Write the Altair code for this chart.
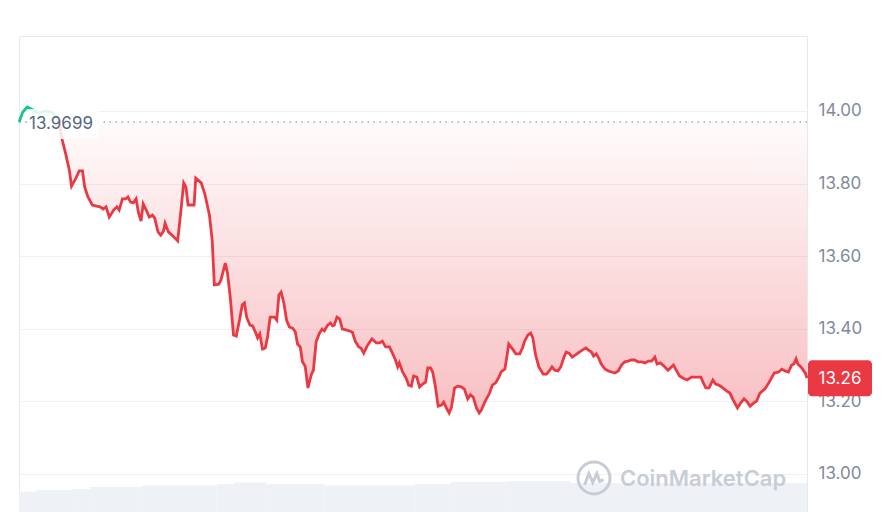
import altair as alt
import pandas as pd

# ---- data (time in minutes over 24h, price in USD) ----
t_min = [
    0, 7, 15, 26, 37, 48, 59, 70, 72, 75,
    79, 85, 92, 96, 104, 110, 116, 120, 126, 134,
    142, 148, 154, 159, 165, 173, 179, 183, 189, 195,
    199, 204, 209, 214, 218, 223, 227, 234, 238, 244,
    248, 254, 259, 264, 267, 273, 281, 290, 296, 301,
    305, 309, 320, 323, 333, 340, 348, 353, 357, 365,
    369, 377, 381, 386, 392, 397, 403, 408, 412, 416,
    422, 427, 432, 436, 440, 445, 450, 454, 459, 467,
    471, 475, 479, 484, 489, 494, 500, 505, 509, 514,
    518, 523, 528, 534, 538, 543, 549, 554, 558, 564,
    569, 573, 576, 581, 586, 591, 598, 604, 609, 615,
    621, 625, 630, 637, 645, 653, 659, 664, 670, 677,
    683, 688, 692, 695, 701, 708, 712, 717, 721, 727,
    732, 738, 743, 747, 752, 756, 761, 766, 772, 776,
    781, 786, 790, 796, 802, 808, 814, 817, 820, 825,
    830, 836, 841, 845, 851, 860, 865, 871, 877, 881,
    888, 892, 895, 902, 908, 915, 920, 924, 930, 935,
    939, 944, 950, 958, 964, 970, 974, 979, 985, 990,
    996, 1000, 1005, 1011, 1017, 1024, 1030, 1036, 1040, 1046,
    1050, 1055, 1060, 1064, 1071, 1077, 1083, 1089, 1095, 1101,
    1107, 1113, 1119, 1125, 1131, 1138, 1144, 1150, 1156, 1162,
    1166, 1172, 1179, 1186, 1196, 1200, 1207, 1214, 1221, 1229,
    1238, 1246, 1250, 1255, 1261, 1268, 1273, 1279, 1286, 1293,
    1299, 1305, 1313, 1319, 1325, 1331, 1336, 1343, 1348, 1354,
    1363, 1371, 1380, 1388, 1394, 1400, 1406, 1412, 1416, 1420,
    1423, 1429, 1437, 1440,
]

price = [
    13.9699, 13.997, 14.011, 14.003, 13.994, 14.000, 13.997, 13.983, 13.9699, 13.953,
    13.920, 13.884, 13.837, 13.793, 13.815, 13.835, 13.835, 13.791, 13.763, 13.741,
    13.738, 13.736, 13.730, 13.736, 13.708, 13.727, 13.736, 13.727, 13.758, 13.758,
    13.763, 13.749, 13.747, 13.758, 13.722, 13.697, 13.744, 13.722, 13.708, 13.713,
    13.705, 13.667, 13.658, 13.669, 13.691, 13.667, 13.656, 13.642, 13.727, 13.802,
    13.791, 13.741, 13.741, 13.815, 13.802, 13.769, 13.713, 13.645, 13.521, 13.523,
    13.534, 13.581, 13.554, 13.488, 13.383, 13.380, 13.424, 13.466, 13.471, 13.432,
    13.410, 13.408, 13.391, 13.375, 13.386, 13.344, 13.347, 13.375, 13.432, 13.432,
    13.424, 13.493, 13.501, 13.471, 13.424, 13.405, 13.402, 13.391, 13.358, 13.350,
    13.309, 13.297, 13.237, 13.273, 13.286, 13.364, 13.388, 13.399, 13.394, 13.410,
    13.416, 13.408, 13.410, 13.432, 13.427, 13.399, 13.397, 13.394, 13.391, 13.364,
    13.350, 13.347, 13.333, 13.355, 13.372, 13.361, 13.361, 13.366, 13.350, 13.350,
    13.331, 13.314, 13.295, 13.306, 13.281, 13.262, 13.245, 13.242, 13.270, 13.267,
    13.240, 13.248, 13.253, 13.292, 13.292, 13.281, 13.240, 13.187, 13.190, 13.198,
    13.182, 13.168, 13.182, 13.237, 13.242, 13.240, 13.234, 13.220, 13.207, 13.218,
    13.212, 13.182, 13.168, 13.176, 13.198, 13.223, 13.245, 13.251, 13.267, 13.281,
    13.289, 13.328, 13.358, 13.344, 13.331, 13.331, 13.347, 13.366, 13.383, 13.388,
    13.375, 13.328, 13.295, 13.275, 13.275, 13.286, 13.295, 13.286, 13.284, 13.295,
    13.322, 13.336, 13.333, 13.322, 13.328, 13.336, 13.342, 13.347, 13.342, 13.336,
    13.325, 13.331, 13.317, 13.303, 13.289, 13.284, 13.281, 13.278, 13.284, 13.300,
    13.309, 13.311, 13.314, 13.314, 13.309, 13.309, 13.306, 13.311, 13.311, 13.322,
    13.303, 13.306, 13.297, 13.286, 13.300, 13.289, 13.270, 13.264, 13.259, 13.267,
    13.267, 13.267, 13.253, 13.237, 13.237, 13.259, 13.248, 13.245, 13.237, 13.229,
    13.223, 13.204, 13.182, 13.196, 13.207, 13.198, 13.187, 13.196, 13.201, 13.223,
    13.234, 13.253, 13.278, 13.281, 13.289, 13.284, 13.281, 13.300, 13.303, 13.317,
    13.303, 13.295, 13.278, 13.264,
]

open_price = 13.9699
y_ticks = [13.00, 13.20, 13.40, 13.60, 13.80, 14.00]

vol_start = [0, 31, 97, 130, 225, 361, 393, 452, 558, 723, 789, 893, 1007]
vol_end = [31, 97, 130, 225, 361, 393, 452, 558, 723, 789, 893, 1007, 1440]
volume = [10.2, 11.0, 11.5, 12.5, 13.2, 13.9, 14.7, 13.9, 13.2, 14.0, 15.0, 15.5, 14.5]

watermark = "CoinMarketCap"

# ---- styling ----
RED = "#ea3943"
GREEN = "#16c784"
FONT = "Inter"
W, H = 788, 476

df = pd.DataFrame({"t": t_min, "price": price})
up = df[df["t"] <= 72]
down = df[df["t"] >= 72].assign(base=open_price)
base_df = pd.DataFrame({"base": [open_price]})
last_df = pd.DataFrame({"last": [price[-1]]})
vol_df = pd.DataFrame({"t0": vol_start, "t1": vol_end, "vol": volume})
one = pd.DataFrame({"a": [0]})

xscale = alt.Scale(domain=[0, 1440], nice=False, zero=False)
yscale = alt.Scale(domain=[12.8953, 14.2066], nice=False, zero=False)
yaxis = alt.Axis(
    orient="right", values=y_ticks, format=".2f", title=None, domain=False,
    ticks=False, labelFontSize=17, labelColor="#808a9d", labelFont=FONT,
    labelPadding=11, grid=True, gridColor="#eff2f5", gridWidth=1,
)

X = alt.X("t:Q", scale=xscale, axis=None)

vol_layer = alt.Chart(vol_df).mark_rect(color="#eef1f6").encode(
    x=alt.X("t0:Q", scale=xscale, axis=None),
    x2="t1:Q",
    y=alt.Y("vol:Q", scale=alt.Scale(domain=[0, 238], nice=False), axis=None),
    y2=alt.datum(0),
)

grad = alt.Gradient(
    gradient="linear",
    stops=[
        alt.GradientStop(color="rgba(234,57,67,0.02)", offset=0),
        alt.GradientStop(color="rgba(234,57,67,0.32)", offset=1),
    ],
    x1=1, x2=1, y1=0, y2=1,
)

area = alt.Chart(down).mark_area(color=grad, interpolate="linear").encode(
    x=X, y=alt.Y("price:Q", scale=yscale, axis=yaxis), y2="base:Q"
)

rule = alt.Chart(base_df).mark_rule(
    strokeDash=[1.5, 4.5], strokeWidth=1.5, color="#a3aab6"
).encode(y=alt.Y("base:Q", scale=yscale, axis=yaxis))

line_up = alt.Chart(up).mark_line(color=GREEN, strokeWidth=2.8, interpolate="linear").encode(
    x=X, y=alt.Y("price:Q", scale=yscale, axis=yaxis)
)
line_down = alt.Chart(down).mark_line(color=RED, strokeWidth=2.8, interpolate="linear").encode(
    x=X, y=alt.Y("price:Q", scale=yscale, axis=yaxis)
)

label_bg = alt.Chart(base_df).mark_rect(
    fill="white", opacity=0.85, cornerRadius=4, yOffset=-13, y2Offset=17
).encode(
    x=alt.value(8), x2=alt.value(80),
    y=alt.Y("base:Q", scale=yscale, axis=yaxis), y2="base:Q",
)
label_txt = alt.Chart(base_df).mark_text(
    align="left", baseline="middle", dy=2, fontSize=17, font=FONT, color="#58667e"
).encode(
    x=alt.value(10),
    y=alt.Y("base:Q", scale=yscale, axis=yaxis),
    text=alt.Text("base:Q", format=".4f"),
)

tag_bg = alt.Chart(last_df).mark_rect(
    fill=RED, cornerRadius=4, yOffset=-18, y2Offset=18
).encode(
    x=alt.value(789), x2=alt.value(853),
    y=alt.Y("last:Q", scale=yscale, axis=yaxis), y2="last:Q",
)
tag_txt = alt.Chart(last_df).mark_text(
    align="center", baseline="middle", dy=1, fontSize=17, font=FONT, color="white"
).encode(
    x=alt.value(821),
    y=alt.Y("last:Q", scale=yscale, axis=yaxis),
    text=alt.Text("last:Q", format=".2f"),
)

WM = "#c8cdd5"
logo_ring = alt.Chart(one).mark_point(
    shape="circle", size=1024, filled=False, strokeWidth=3, color=WM, opacity=1
).encode(x=alt.value(575), y=alt.value(442))
logo_wave = alt.Chart(one).mark_point(
    shape="M-0.58,0.42 L-0.32,-0.28 L-0.08,0.28 L0.18,-0.28 L0.36,0.22 L0.6,0.1",
    size=1024, filled=False, strokeWidth=3, color=WM, opacity=1,
).encode(x=alt.value(575), y=alt.value(442))
wm_text = alt.Chart(one).mark_text(
    text=watermark, align="left", baseline="middle", fontSize=22,
    fontWeight=600, font=FONT, color=WM,
).encode(x=alt.value(601), y=alt.value(443))

price_layers = alt.layer(
    area, rule, line_up, line_down, label_bg, label_txt, tag_bg, tag_txt,
    logo_ring, logo_wave, wm_text,
)

chart = (
    alt.layer(vol_layer, price_layers)
    .resolve_scale(y="independent")
    .properties(
        width=W, height=H,
        padding={"left": 11, "top": 28, "right": 70, "bottom": 0},
        autosize=alt.AutoSizeParams(type="none"),
        background="white",
    )
    .configure_view(stroke="#e6e9ee", strokeWidth=1)
)

chart.save("out.html", embed_options={"renderer": "svg", "actions": False})
